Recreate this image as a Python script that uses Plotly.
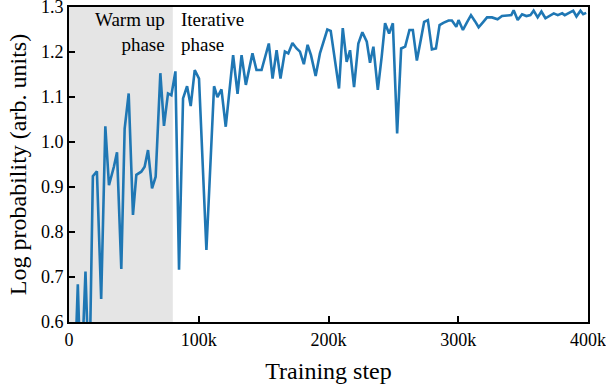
import plotly.graph_objects as go

# training step (thousands) and log probability
steps_k = [3.5, 6.8, 9.2, 12.7, 15.6, 18.4, 21.5, 24.8, 28.0, 30.8, 34.6, 37.0,
           40.3, 42.9, 46.0, 49.3, 51.9, 55.7, 58.3, 60.9, 64.0, 66.8, 70.4, 73.2,
           76.3, 78.9, 82.0, 84.8, 87.9, 91.0, 93.8, 96.9, 100.2, 105.9, 111.8,
           114.4, 117.5, 120.8, 126.5, 129.9, 133.0, 136.3, 141.4, 144.5, 148.4,
           154.0, 156.9, 160.0, 163.0, 166.4, 169.0, 172.2, 175.4, 178.0, 181.0,
           183.9, 186.5, 190.1, 193.4, 196.5, 199.1, 201.7, 205.0, 208.1, 211.0,
           214.0, 216.6, 219.7, 223.0, 226.1, 229.5, 232.0, 234.6, 238.0, 241.0,
           243.6, 246.7, 249.6, 252.9, 256.0, 259.1, 262.4, 265.0, 268.1, 271.0,
           273.7, 276.6, 279.7, 282.8, 285.6, 288.5, 292.5, 295.1, 298.5, 300.2,
           303.6, 306.5, 309.8, 313.0, 315.7, 319.0, 322.2, 326.0, 330.3, 333.7,
           337.6, 340.9, 342.7, 345.8, 349.2, 352.5, 355.6, 358.1, 361.2, 364.1,
           367.2, 370.5, 373.6, 376.7, 380.1, 382.1, 385.2, 388.6, 391.1, 394.2,
           396.3, 398.6]
log_prob = [0.40, 0.684, 0.45, 0.712, 0.45, 0.924, 0.935, 0.651, 1.035, 0.904, 0.945, 0.977,
            0.718, 1.03, 1.108, 0.838, 0.927, 0.934, 0.945, 0.982, 0.897, 0.923, 1.153, 1.036,
            1.108, 1.104, 1.157, 0.716, 1.097, 1.124, 1.08, 1.16, 1.141, 0.76, 1.124,
            1.10, 1.117, 1.034, 1.193, 1.107, 1.193, 1.127, 1.197, 1.16, 1.16,
            1.219, 1.141, 1.204, 1.141, 1.201, 1.197, 1.22, 1.208, 1.201, 1.173,
            1.216, 1.193, 1.147, 1.197, 1.225, 1.25, 1.247, 1.18, 1.119, 1.253,
            1.178, 1.204, 1.122, 1.219, 1.244, 1.223, 1.176, 1.212, 1.116, 1.19,
            1.264, 1.241, 1.264, 1.019, 1.208, 1.212, 1.249, 1.249, 1.181, 1.225,
            1.267, 1.271, 1.206, 1.208, 1.26, 1.265, 1.27, 1.27, 1.256, 1.271,
            1.249, 1.265, 1.282, 1.268, 1.255, 1.266, 1.277, 1.277, 1.273, 1.28,
            1.282, 1.282, 1.293, 1.271, 1.284, 1.28, 1.282, 1.292, 1.277, 1.29,
            1.275, 1.28, 1.286, 1.282, 1.286, 1.282, 1.287, 1.292, 1.279, 1.292,
            1.284, 1.287]
steps = [s * 1000 for s in steps_k]

warmup_end = 80000
x_ticks = [0, 100000, 200000, 300000, 400000]
x_labels = ["0", "100k", "200k", "300k", "400k"]
y_ticks = [0.6, 0.7, 0.8, 0.9, 1.0, 1.1, 1.2, 1.3]
y_labels = ["0.6", "0.7", "0.8", "0.9", "1.0", "1.1", "1.2", "1.3"]

serif = "Liberation Serif, Times New Roman, serif"

fig = go.Figure()
fig.add_trace(go.Scatter(x=steps, y=log_prob, mode="lines",
                         line=dict(color="#1f77b4", width=2.6),
                         showlegend=False))

fig.add_shape(type="rect", xref="x", yref="y", x0=0, x1=warmup_end, y0=0.6, y1=1.3,
              fillcolor="#e5e5e5", line=dict(width=0), layer="below")

fig.add_annotation(x=warmup_end, y=1.3, xref="x", yref="y", xanchor="right", yanchor="top",
                   xshift=-6, yshift=0, align="right", showarrow=False,
                   text="Warm up<br>phase", font=dict(family=serif, size=19, color="black"))
fig.add_annotation(x=warmup_end, y=1.3, xref="x", yref="y", xanchor="left", yanchor="top",
                   xshift=6, yshift=0, align="left", showarrow=False,
                   text="Iterative<br>phase", font=dict(family=serif, size=19, color="black"))

axis_common = dict(showline=True, linecolor="black", linewidth=2, mirror=True,
                   ticks="inside", ticklen=6, tickwidth=1.5, tickcolor="black",
                   showgrid=False, zeroline=False, automargin=False,
                   ticklabeloverflow="allow",
                   tickfont=dict(family=serif, size=18, color="black"))

fig.update_xaxes(range=[0, 400000], tickvals=x_ticks, ticktext=x_labels,
                 title=dict(text="Training step", font=dict(family=serif, size=24, color="black"),
                            standoff=14),
                 **axis_common)
fig.update_yaxes(range=[0.6, 1.3001], tickvals=y_ticks, ticktext=y_labels,
                 title=dict(text="Log probability (arb. units)",
                            font=dict(family=serif, size=24, color="black"), standoff=8),
                 **axis_common)

fig.update_layout(width=606, height=384, plot_bgcolor="white", paper_bgcolor="white",
                  margin=dict(l=69, r=18, t=7, b=62))

# drop the page's default body margin so the figure sits at the top-left corner
fig.write_html("out.html", config={"displayModeBar": False},
               post_script="document.body.style.margin='0';")
